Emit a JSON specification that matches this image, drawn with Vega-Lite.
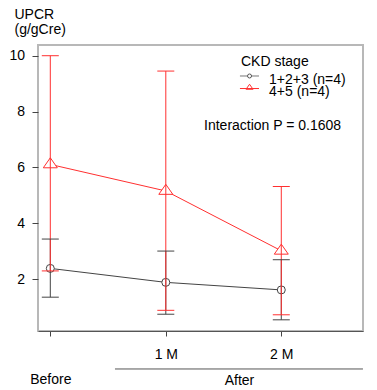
{
  "$schema": "https://vega.github.io/schema/vega-lite/v6.json",
  "width": 325,
  "height": 286,
  "autosize": "none",
  "padding": {"left": 38, "top": 45, "right": 14, "bottom": 59},
  "background": "white",
  "config": {
    "font": "Liberation Sans",
    "view": {"stroke": "#b8b8b8", "strokeWidth": 2},
    "axis": {"grid": false, "labelFontSize": 14, "labelColor": "black", "titleFontSize": 14, "titleFontWeight": "normal", "titleColor": "black", "tickColor": "#444", "domainColor": "#555"}
  },
  "data": {
    "values": [
      {"group": "1+2+3 (n=4)", "t": 0, "mean": 2.39, "lo": 1.36, "hi": 3.44},
      {"group": "1+2+3 (n=4)", "t": 1, "mean": 1.89, "lo": 0.75, "hi": 3.01},
      {"group": "1+2+3 (n=4)", "t": 2, "mean": 1.62, "lo": 0.55, "hi": 2.70},
      {"group": "4+5 (n=4)", "t": 0, "mean": 6.11, "lo": 2.30, "hi": 10.0},
      {"group": "4+5 (n=4)", "t": 1, "mean": 5.16, "lo": 0.89, "hi": 9.45},
      {"group": "4+5 (n=4)", "t": 2, "mean": 3.02, "lo": 0.73, "hi": 5.32}
    ]
  },
  "encoding": {
    "x": {
      "field": "t", "type": "quantitative",
      "scale": {"domain": [-0.1065, 2.7074], "nice": false, "zero": false},
      "axis": {
        "values": [0, 1, 2],
        "labelExpr": "datum.value == 0 ? ['', 'Before'] : datum.value + ' M'",
        "labelLineHeight": 25.5,
        "labelDx": 3,
        "labelPadding": 11,
        "tickSize": 5,
        "domain": true,
        "title": "After",
        "titleX": 201,
        "titleY": 53,
        "titleBaseline": "alphabetic",
        "titleAlign": "center"
      }
    },
    "y": {
      "field": "mean", "type": "quantitative",
      "scale": {"domain": [0.15, 10.383], "nice": false, "zero": false},
      "axis": {
        "values": [2, 4, 6, 8, 10],
        "domain": false,
        "tickSize": 6,
        "labelPadding": 7.5,
        "title": ["UPCR", "(g/gCre)"],
        "titleAngle": 0,
        "titleAlign": "left",
        "titleBaseline": "top",
        "titleLineHeight": 15.5,
        "titleX": -24,
        "titleY": -37.7
      }
    }
  },
  "layer": [
    {
      "mark": {"type": "line", "strokeWidth": 1},
      "encoding": {
        "stroke": {"field": "group", "type": "nominal", "scale": {"domain": ["1+2+3 (n=4)", "4+5 (n=4)"], "range": ["#444444", "#ff3030"]}, "legend": null}
      }
    },
    {
      "transform": [{"filter": "datum.group == '1+2+3 (n=4)'"}],
      "mark": {"type": "point", "shape": "circle", "filled": true, "fill": "white", "stroke": "#444444", "strokeWidth": 1, "opacity": 1, "size": 64}
    },
    {
      "transform": [{"filter": "datum.group == '4+5 (n=4)'"}],
      "mark": {"type": "point", "shape": "M0,-0.95L1,0.48L-1,0.48Z", "filled": true, "fill": "white", "stroke": "#ff3030", "strokeWidth": 1, "opacity": 1, "size": 196}
    },
    {
      "mark": {"type": "rule", "strokeWidth": 1},
      "encoding": {
        "y": {"field": "lo", "type": "quantitative"},
        "y2": {"field": "hi"},
        "stroke": {"field": "group", "type": "nominal", "legend": null}
      }
    },
    {
      "mark": {"type": "rule", "strokeWidth": 1, "xOffset": -8.5, "x2Offset": 8.5},
      "encoding": {
        "x2": {"field": "t"},
        "y": {"field": "hi", "type": "quantitative"},
        "stroke": {"field": "group", "type": "nominal", "legend": null}
      }
    },
    {
      "mark": {"type": "rule", "strokeWidth": 1, "xOffset": -8.5, "x2Offset": 8.5},
      "encoding": {
        "x2": {"field": "t"},
        "y": {"field": "lo", "type": "quantitative"},
        "stroke": {"field": "group", "type": "nominal", "legend": null}
      }
    },
    {
      "transform": [{"filter": "datum.t == 0 && datum.group == '1+2+3 (n=4)'"}],
      "mark": {"type": "rule", "color": "#555555", "strokeWidth": 1},
      "encoding": {
        "x": {"datum": 0.56},
        "x2": {"datum": 2.707},
        "y": {"datum": -1.209}
      }
    },
    {
      "transform": [{"filter": "datum.t == 0 && datum.group == '1+2+3 (n=4)'"}],
      "mark": {"type": "text", "align": "left", "baseline": "alphabetic", "fontSize": 14, "fill": "black"},
      "encoding": {
        "x": {"datum": 1.331},
        "y": {"datum": 7.342},
        "text": {"value": "Interaction P = 0.1608"}
      }
    },
    {
      "transform": [{"filter": "datum.t == 0 && datum.group == '1+2+3 (n=4)'"}],
      "mark": {"type": "text", "align": "left", "baseline": "alphabetic", "fontSize": 14, "fill": "black"},
      "encoding": {
        "x": {"datum": 1.651},
        "y": {"datum": 9.614},
        "text": {"value": "CKD stage"}
      }
    },
    {
      "transform": [{"filter": "datum.t == 0 && datum.group == '1+2+3 (n=4)'"}],
      "mark": {"type": "rule", "color": "#777777", "strokeWidth": 1},
      "encoding": {
        "x": {"datum": 1.642},
        "x2": {"datum": 1.807},
        "y": {"datum": 9.274}
      }
    },
    {
      "transform": [{"filter": "datum.t == 0 && datum.group == '1+2+3 (n=4)'"}],
      "mark": {"type": "point", "shape": "circle", "filled": true, "fill": "white", "stroke": "#555555", "strokeWidth": 1, "opacity": 1, "size": 16},
      "encoding": {
        "x": {"datum": 1.725},
        "y": {"datum": 9.274}
      }
    },
    {
      "transform": [{"filter": "datum.t == 0 && datum.group == '1+2+3 (n=4)'"}],
      "mark": {"type": "text", "align": "left", "baseline": "alphabetic", "fontSize": 14, "fill": "black"},
      "encoding": {
        "x": {"datum": 1.894},
        "y": {"datum": 8.97},
        "text": {"value": "1+2+3 (n=4)"}
      }
    },
    {
      "transform": [{"filter": "datum.t == 0 && datum.group == '4+5 (n=4)'"}],
      "mark": {"type": "rule", "color": "#ff3030", "strokeWidth": 1},
      "encoding": {
        "x": {"datum": 1.642},
        "x2": {"datum": 1.807},
        "y": {"datum": 8.826}
      }
    },
    {
      "transform": [{"filter": "datum.t == 0 && datum.group == '4+5 (n=4)'"}],
      "mark": {"type": "point", "shape": "M0,-0.95L1,0.48L-1,0.48Z", "filled": false, "stroke": "#ff3030", "strokeWidth": 1, "opacity": 1, "size": 49},
      "encoding": {
        "x": {"datum": 1.725},
        "y": {"datum": 8.859}
      }
    },
    {
      "transform": [{"filter": "datum.t == 0 && datum.group == '4+5 (n=4)'"}],
      "mark": {"type": "text", "align": "left", "baseline": "alphabetic", "fontSize": 14, "fill": "black"},
      "encoding": {
        "x": {"datum": 1.894},
        "y": {"datum": 8.558},
        "text": {"value": "4+5 (n=4)"}
      }
    }
  ]
}
